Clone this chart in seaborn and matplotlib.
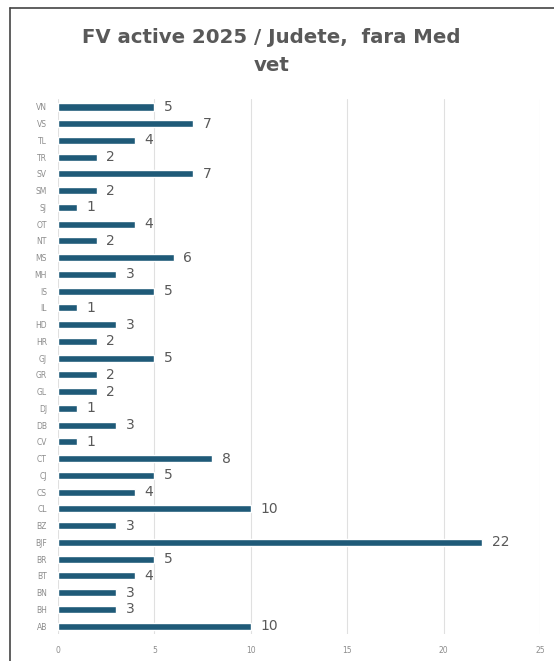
import matplotlib
matplotlib.use("Agg")
import matplotlib.pyplot as plt
import seaborn as sns
import pandas as pd
from matplotlib.lines import Line2D

judete = ["VN", "VS", "TL", "TR", "SV", "SM", "SJ", "OT", "NT", "MS", "MH", "IS",
          "IL", "HD", "HR", "GJ", "GR", "GL", "DJ", "DB", "CV", "CT", "CJ", "CS",
          "CL", "BZ", "BJF", "BR", "BT", "BN", "BH", "AB"]
valori = [5, 7, 4, 2, 7, 2, 1, 4, 2, 6, 3, 5,
          1, 3, 2, 5, 2, 2, 1, 3, 1, 8, 5, 4,
          10, 3, 22, 5, 4, 3, 3, 10]
x_ticks = [0, 5, 10, 15, 20, 25]
titlu = "FV active 2025 / Judete,  fara Med\nvet"

df = pd.DataFrame({"judet": judete, "valoare": valori})

sns.set_theme(style="white")
plt.rcParams['font.family'] = ['DejaVu Sans']

fig = plt.figure(figsize=(5.54, 6.61), dpi=100)
ax = fig.add_axes([0.1047, 0.0402, 0.8700, 0.8106])

bar_color = "#1f5a78"
sns.barplot(data=df, x="valoare", y="judet", orient="h", color=bar_color,
            width=0.42, ax=ax, saturation=1)

for i, v in enumerate(valori):
    ax.text(v + 0.5, i, str(v), va="center", ha="left", fontsize=10,
            color="#595959")

ax.set_xlim(0, 25)
ax.set_ylim(len(judete) - 0.5, -0.5)
ax.set_xticks(x_ticks)
ax.set_xticklabels([str(t) for t in x_ticks], fontsize=5.5, color="#8c8c8c")
ax.tick_params(axis="y", labelsize=5.5, labelcolor="#8c8c8c", length=0, pad=8)
ax.tick_params(axis="x", length=0, pad=8)
ax.set_xlabel("")
ax.set_ylabel("")
ax.grid(axis="x", color="#e0e0e0", linewidth=0.8)
ax.set_axisbelow(True)
for s in ax.spines.values():
    s.set_visible(False)

fig.text(0.49, 0.922, titlu, ha="center", va="center", fontsize=14.2,
         fontweight="bold", color="#595959", linespacing=1.55)

# outer frame (left and top edges)
fig.add_artist(Line2D([10/554, 10/554], [0, 1 - 8/661], transform=fig.transFigure,
                      color="#444444", linewidth=1.2))
fig.add_artist(Line2D([10/554, 1], [1 - 8/661, 1 - 8/661], transform=fig.transFigure,
                      color="#444444", linewidth=1.2))

fig.savefig("out.png", dpi=100)
